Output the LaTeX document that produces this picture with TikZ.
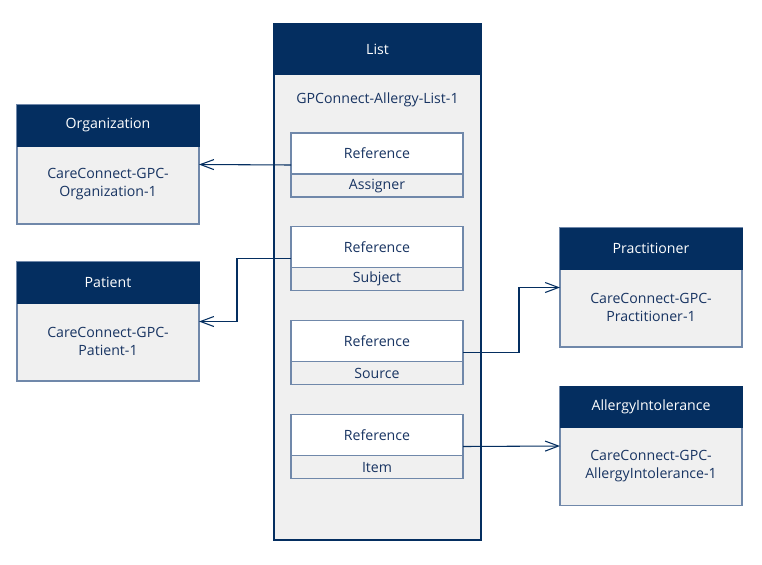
\documentclass[tikz,border=0pt]{standalone}
\usepackage{fontspec}
\setmainfont{Open Sans}
\usepackage{tikz}
\usetikzlibrary{arrows.meta}

\definecolor{navy}{RGB}{4,46,96}
\definecolor{boxgray}{RGB}{240,240,240}
\definecolor{edge}{RGB}{112,136,170}
\definecolor{txt}{RGB}{24,52,98}

\begin{document}
\begin{tikzpicture}[x=0.75pt,y=-0.75pt,
    font=\fontsize{10.6}{13.5}\selectfont,
    classbox/.style={draw=edge,fill=boxgray,line width=0.9pt,minimum width=136.5pt,minimum height=89.25pt,inner sep=0pt,outer sep=0pt},
    classhead/.style={draw=navy,fill=navy,text=white,anchor=north,minimum width=136.5pt,minimum height=30.75pt,inner sep=0pt,outer sep=0pt},
    classtext/.style={text=txt,align=center},
    refbox/.style={draw=edge,fill=boxgray,line width=0.9pt,minimum width=129pt,minimum height=48pt,inner sep=0pt,outer sep=0pt},
    reftop/.style={draw=edge,fill=white,line width=0.9pt,text=txt,anchor=north,minimum width=129pt,minimum height=30.75pt,inner sep=0pt,outer sep=0pt},
    link/.style={draw=navy,line width=0.8pt,-{Straight Barb[length=10pt,width=7.5pt,line width=0.8pt]}}]

    \useasboundingbox (0,0) rectangle (762,564);

    % List
    \node[draw=navy,fill=boxgray,line width=0.9pt,minimum width=155.25pt,minimum height=387pt,inner sep=0pt,outer sep=0pt] (list) at (377.5,282) {};
    \node[classhead,minimum width=155.25pt,minimum height=37.5pt] (listhead) at (list.north) {List};
    \node[classtext] (listname) at (377.5,100) {GPConnect-Allergy-List-1};

    % References inside the list
    \foreach \name/\y/\label in {assigner/165/Assigner,subject/258.5/Subject,source/352.5/Source,item/446.5/Item} {
        \node[refbox] (\name) at (377,\y) {};
        \node[reftop] (\name ref) at (\name.north) {Reference};
        \node[text=txt,anchor=north,minimum height=17.25pt,inner sep=0pt] (\name label) at (\name ref.south) {\label};
    }

    % Target classes
    \foreach \name/\x/\y/\head/\body in {org/108/164.5/Organization/Organization-1,
        patient/108/321.5/Patient/Patient-1,
        practitioner/651/287.5/Practitioner/Practitioner-1,
        allergy/651/446/AllergyIntolerance/AllergyIntolerance-1} {
        \node[classbox] (\name) at (\x,\y) {};
        \node[classhead] (\name head) at (\name.north) {\head};
        \node[classtext] (\name text) at ([yshift=-15pt]\name.center) {CareConnect-GPC-\\\body};
    }

    % Connectors
    \draw[link] (assigner.west) -- (org.east);
    \draw[link] (subject.west) -- ++(-54,0) |- (patient.east);
    \draw[link] (source.east) -- ++(56,0) |- (practitioner.west);
    \draw[link] (item.east) -- (allergy.west);
\end{tikzpicture}
\end{document}
